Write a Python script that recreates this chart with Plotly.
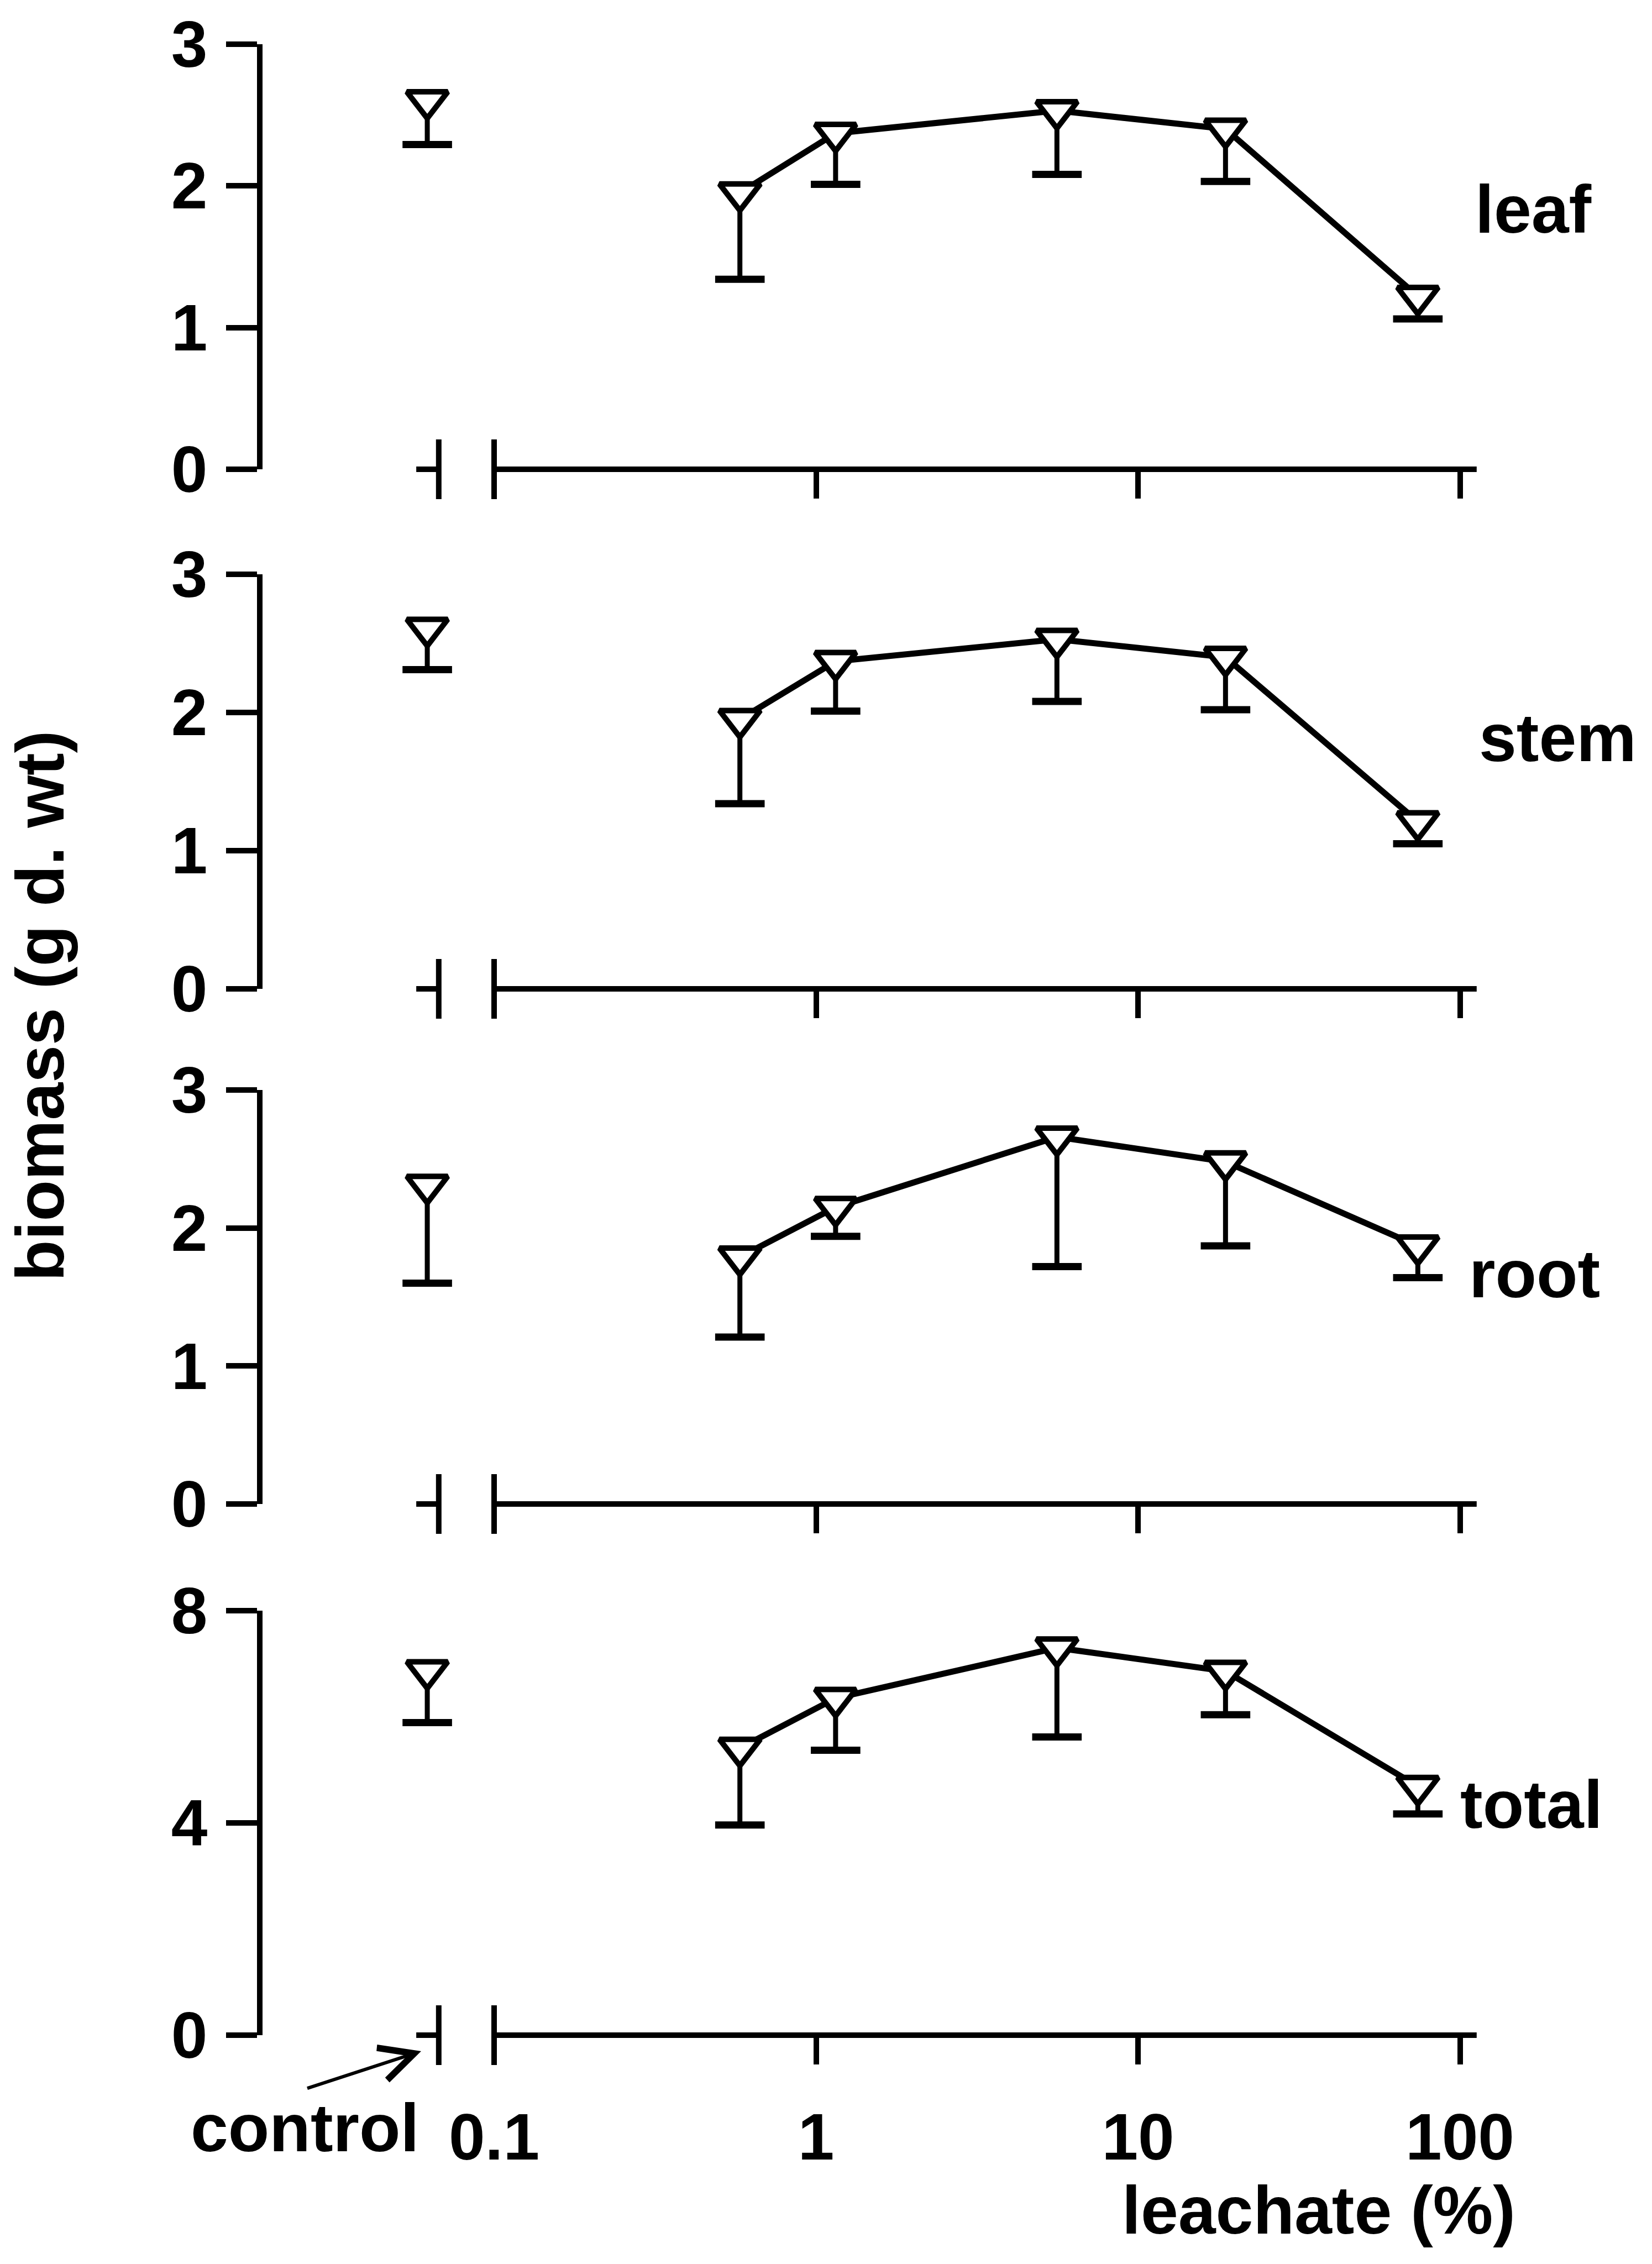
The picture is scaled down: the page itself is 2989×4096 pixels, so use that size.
import math
import plotly.graph_objects as go

# ---------------- data ----------------
conc = [0.58, 1.15, 5.6, 18.7, 74]          # leachate (%)
control_x = 0.062                            # plotting position of the control (left of axis break)

panel_names = ["leaf", "stem", "root", "total"]

leaf_mean = [1.95, 2.37, 2.53, 2.40, 1.22]
leaf_low = [1.34, 2.01, 2.08, 2.03, 1.06]
leaf_ctrl_mean, leaf_ctrl_low = 2.60, 2.29

stem_mean = [1.95, 2.37, 2.53, 2.40, 1.21]
stem_low = [1.34, 2.01, 2.08, 2.02, 1.05]
stem_ctrl_mean, stem_ctrl_low = 2.61, 2.31

root_mean = [1.79, 2.15, 2.66, 2.48, 1.87]
root_low = [1.21, 1.94, 1.72, 1.87, 1.64]
root_ctrl_mean, root_ctrl_low = 2.31, 1.60

total_mean = [5.41, 6.35, 7.30, 6.86, 4.69]
total_low = [3.96, 5.37, 5.62, 6.04, 4.17]
total_ctrl_mean, total_ctrl_low = 6.87, 5.89

y_ticks = [[0, 1, 2, 3], [0, 1, 2, 3], [0, 1, 2, 3], [0, 4, 8]]
y_max = [3, 3, 3, 8]
x_tickvals = [0.1, 1, 10, 100]
x_ticktext = ["0.1", "1", "10", "100"]

means = [leaf_mean, stem_mean, root_mean, total_mean]
lows = [leaf_low, stem_low, root_low, total_low]
ctrl_means = [leaf_ctrl_mean, stem_ctrl_mean, root_ctrl_mean, total_ctrl_mean]
ctrl_lows = [leaf_ctrl_low, stem_ctrl_low, root_ctrl_low, total_ctrl_low]

# ---------------- layout geometry (output pixels) ----------------
W, H = 2989, 4096
X_LEFT, X_RIGHT = 475, 2680
X01, DEC = 894, 582.5
x_range = [-1 - (X01 - X_LEFT) / DEC, -1 + (X_RIGHT - X01) / DEC]
panel_px = [(79.5, 849), (1039, 1789), (1972, 2721), (2914, 3682)]

AXIS_END = 10 ** 2.052     # right end of drawn x-axis line
BREAK_X = 0.0673           # left break mark
STUB_X = 0.0573            # left end of small stub

FONT = "Liberation Sans, Arial, Helvetica, sans-serif"
tickfont = dict(family=FONT, size=118, color="black", weight="bold")
labfont = dict(family=FONT, size=122, color="black", weight="bold")

LW = 10
fig = go.Figure()
layout = dict(
    width=W, height=H,
    margin=dict(l=0, r=0, t=0, b=0, autoexpand=False),
    paper_bgcolor="white", plot_bgcolor="white",
    showlegend=False,
)
shapes = []
annotations = []

for i in range(4):
    xa = "xaxis" if i == 0 else f"xaxis{i+1}"
    ya = "yaxis" if i == 0 else f"yaxis{i+1}"
    xr = "x" if i == 0 else f"x{i+1}"
    yr = "y" if i == 0 else f"y{i+1}"
    top, bot = panel_px[i]
    ph = bot - top

    layout[xa] = dict(
        type="log", domain=[X_LEFT / W, X_RIGHT / W], range=x_range, anchor=yr,
        showline=False, showgrid=False, zeroline=False, automargin=False,
        ticks="outside", ticklen=52, tickwidth=LW, tickcolor="black",
        tickvals=x_tickvals, ticktext=x_ticktext,
        showticklabels=(i == 3), tickfont=tickfont, ticklabelstandoff=30,
    )
    layout[ya] = dict(
        domain=[1 - bot / H, 1 - top / H], range=[0, y_max[i]], anchor=xr,
        showline=True, linewidth=LW, linecolor="black",
        showgrid=False, zeroline=False, automargin=False,
        ticks="outside", ticklen=56, tickwidth=LW, tickcolor="black",
        tickvals=y_ticks[i], ticktext=[str(v) for v in y_ticks[i]],
        tickfont=tickfont, ticklabelstandoff=10,
    )

    m = means[i]
    lo = lows[i]
    xs_all = conc + [control_x]
    m_all = m + [ctrl_means[i]]
    lo_all = lo + [ctrl_lows[i]]

    # error bar stems (one-sided, downwards)
    sx, sy = [], []
    for xv, mv, lv in zip(xs_all, m_all, lo_all):
        sx += [xv, xv, None]
        sy += [mv, lv, None]
    fig.add_trace(go.Scatter(x=sx, y=sy, mode="lines", xaxis=xr, yaxis=yr,
                             line=dict(color="black", width=9), hoverinfo="skip"))
    # error bar caps
    fig.add_trace(go.Scatter(x=xs_all, y=lo_all, mode="markers", xaxis=xr, yaxis=yr,
                             marker=dict(symbol="line-ew", size=64,
                                         line=dict(color="black", width=13)),
                             cliponaxis=False, hoverinfo="skip"))
    # connecting line (treatments only)
    fig.add_trace(go.Scatter(x=conc, y=m, mode="lines", xaxis=xr, yaxis=yr,
                             line=dict(color="black", width=11)))
    # open down-triangles
    fig.add_trace(go.Scatter(x=xs_all, y=m_all, mode="markers", xaxis=xr, yaxis=yr,
                             marker=dict(symbol="triangle-down", size=64, color="white",
                                         line=dict(color="black", width=10)),
                             cliponaxis=False))

    # axis line and break marks
    up = 54 / ph
    dn = 54 / ph
    yd = f"{yr} domain"
    line = dict(color="black", width=LW)
    shapes.append(dict(type="line", xref=xr, yref=yd, x0=0.1, x1=AXIS_END, y0=0, y1=0, line=line))
    shapes.append(dict(type="line", xref=xr, yref=yd, x0=0.1, x1=0.1, y0=-dn, y1=up, line=line))
    shapes.append(dict(type="line", xref=xr, yref=yd, x0=BREAK_X, x1=BREAK_X, y0=-dn, y1=up, line=line))
    shapes.append(dict(type="line", xref=xr, yref=yd, x0=STUB_X, x1=BREAK_X, y0=0, y1=0, line=line))

# panel labels
label_pos = [(2774, 379), (2818, 1335), (2776, 2305), (2771, 3265)]
for name, (px, py) in zip(panel_names, label_pos):
    annotations.append(dict(text=name, x=px / W, y=1 - py / H, xref="paper", yref="paper",
                            xanchor="center", yanchor="middle", showarrow=False, font=labfont))

# y-axis title
annotations.append(dict(text="biomass (g d. wt)", x=73 / W, y=1 - 1820 / H, xref="paper", yref="paper",
                        xanchor="center", yanchor="middle", textangle=-90, showarrow=False,
                        font=labfont))
# x-axis title
annotations.append(dict(text="leachate (%)", x=2386 / W, y=1 - 3999 / H, xref="paper", yref="paper",
                        xanchor="center", yanchor="middle", showarrow=False, font=labfont))
# control label and arrow
annotations.append(dict(text="control", x=551 / W, y=1 - 3850 / H, xref="paper", yref="paper",
                        xanchor="center", yanchor="middle", showarrow=False, font=labfont))
annotations.append(dict(text=" ", x=762 / W, y=1 - 3711 / H, xref="paper", yref="paper",
                        showarrow=True, ax=-209, ay=68, arrowhead=5, arrowsize=2.0,
                        arrowwidth=6, arrowcolor="black"))

layout["shapes"] = shapes
layout["annotations"] = annotations
fig.update_layout(**layout)

fig.write_html("out.html")
